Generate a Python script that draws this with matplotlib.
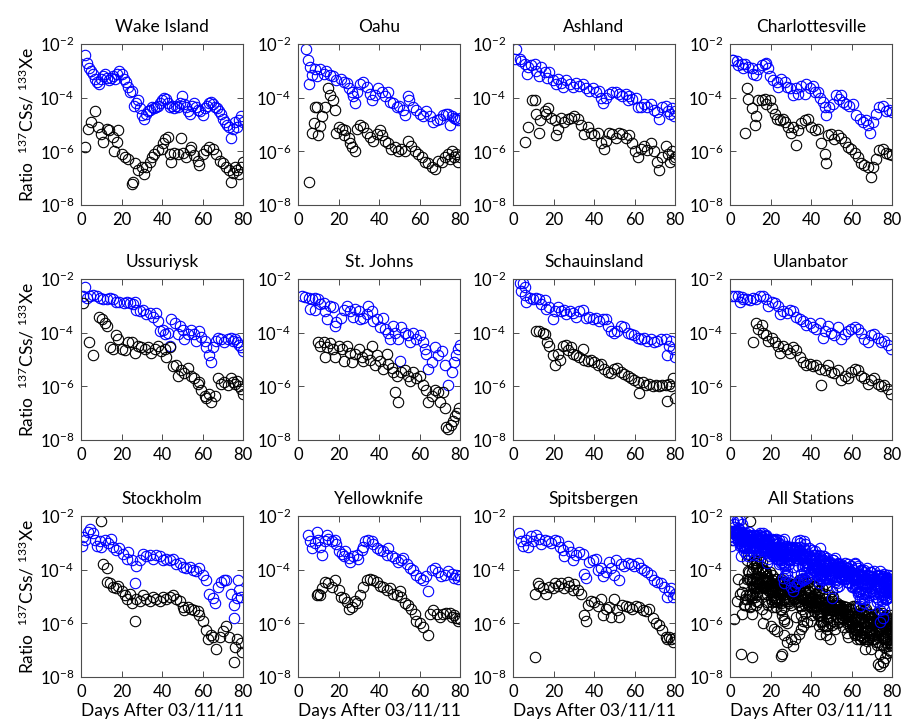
import numpy as np
import matplotlib.pyplot as plt

plt.rcParams['font.family'] = ['Lato', 'DejaVu Sans']
plt.rcParams['mathtext.fontset'] = 'custom'
plt.rcParams['mathtext.rm'] = 'Lato'
plt.rcParams['mathtext.it'] = 'Lato:italic'

# values as log10 of the ratio
# blue = upper series, black = lower series

wake_bd = [2, 3, 4, 5, 6, 7, 8, 9, 10, 11, 12, 13, 14, 15, 16, 17, 18, 19, 20, 21, 22, 23, 24, 25, 26, 27, 28, 29, 30,
           31, 32, 33, 34, 35, 36, 37, 38, 39, 40, 41, 42, 43, 44, 45, 46, 47, 48, 49, 50, 51, 52, 53, 54, 55, 56, 57,
           58, 59, 60, 61, 62, 63, 64, 65, 66, 67, 68, 69, 70, 71, 72, 73, 74, 75, 76, 77, 78, 79, 80]
wake_b = [-2.4, -2.7, -2.9, -3.0, -3.1, -3.3, -3.4, -3.5, -3.3, -3.2, -3.1, -3.25, -3.35, -3.25, -3.2, -3.3, -3.1, -3.0,
          -3.1, -3.3, -3.4, -3.6, -3.8, -3.75, -4.3, -4.2, -4.1, -4.4, -4.65, -4.8, -4.6, -4.5, -4.45, -4.35, -4.4,
          -4.35, -4.3, -4.2, -4.1, -4.0, -4.05, -4.2, -4.35, -4.3, -4.4, -4.3, -4.35, -4.2, -3.95, -4.25, -4.35, -4.5,
          -4.6, -4.3, -4.2, -4.35, -4.45, -4.5, -4.65, -4.4, -4.3, -4.2, -4.15, -4.25, -4.35, -4.4, -4.5, -4.6, -4.8,
          -4.9, -5.0, -5.1, -5.5, -5.15, -4.9, -5.1, -4.85, -4.7, -4.9]
wake_kd = [2, 3.6, 5, 7, 8.5, 10, 11, 12.6, 14, 16, 16.5, 17.8, 18.5, 20, 21.6, 23, 25, 25.8, 26.5, 28, 30, 31, 32, 34,
           35, 36, 38, 40, 40.5, 41.3, 43, 44, 44.6, 46, 48, 49.5, 50.5, 52, 53.6, 54.4, 56, 57.7, 58.5, 60, 61.8,
           63.4, 65, 66.7, 68.4, 70, 71.6, 73, 74, 75, 76, 77, 78, 79, 80]
wake_k = [-5.84, -5.15, -4.9, -4.5, -5.1, -5.35, -5.65, -5.15, -5.2, -5.45, -6.0, -5.65, -5.2, -6.1, -6.2, -6.3, -7.2,
          -7.15, -6.45, -6.7, -6.6, -6.85, -6.6, -6.4, -6.2, -6.1, -5.95, -5.9, -5.7, -5.55, -5.45, -6.1, -6.4, -6.05,
          -6.1, -5.5, -6.05, -6.2, -5.95, -5.85, -6.15, -6.35, -6.5, -6.1, -5.95, -5.85, -5.9, -6.1, -6.35, -6.45,
          -6.6, -6.7, -7.15, -6.8, -6.6, -6.7, -6.85, -6.6, -6.4]

oahu_bd = [4, 4.8, 5.2, 6, 7, 8.5, 9.3, 11, 12.6, 14, 16, 17.5, 19, 21, 22.5, 24, 25, 26.5, 27.4, 28, 29, 30.6, 32.3,
           34, 35.5, 36.4, 38, 39.7, 41.3, 43, 44.6, 45.4, 47, 48.7, 50, 52, 52.8, 54.4, 55, 57, 58.5, 60, 61.8, 63.4,
           65, 66.7, 68.4, 70, 71.6, 73, 74, 75, 76, 77, 78, 79, 80]
oahu_b = [-2.2, -2.6, -3.5, -2.85, -3.15, -2.95, -3.2, -2.95, -3.1, -3.0, -3.15, -3.2, -3.35, -3.3, -3.4, -3.45, -3.65,
          -3.8, -3.95, -4.2, -3.8, -3.5, -3.4, -3.6, -3.85, -4.1, -3.9, -3.65, -3.8, -3.95, -3.8, -4.15, -4.2, -4.35,
          -4.3, -4.45, -4.65, -3.95, -4.1, -4.35, -4.45, -4.6, -4.7, -4.5, -4.7, -4.9, -4.85, -4.8, -4.65, -4.6, -4.6,
          -5.0, -4.7, -4.75, -4.8, -4.85, -4.75]
oahu_kd = [5.2, 7, 7.7, 8.5, 9.3, 10, 11, 11.8, 13.4, 15, 16, 17.5, 18.4, 19, 20, 21.6, 22.5, 23.3, 25, 25.7, 26.5, 28,
           29, 30.6, 32.3, 34, 35.5, 37, 39, 40.5, 41.3, 43, 44.6, 46, 48, 49.5, 51, 52.8, 54.4, 56, 57.7, 59.3, 61,
           62.6, 64, 66, 67.5, 69, 71, 72.5, 74, 75, 76, 77, 78, 79, 80]
oahu_k = [-7.15, -5.3, -4.95, -4.35, -4.35, -5.4, -5.05, -4.7, -4.35, -3.65, -3.9, -4.1, -4.45, -5.3, -5.1, -5.15,
          -5.4, -5.2, -5.5, -5.7, -5.85, -6.0, -5.15, -5.0, -5.1, -5.3, -5.45, -5.6, -5.35, -5.2, -5.4, -5.6, -5.7,
          -5.9, -5.85, -6.0, -5.9, -6.0, -5.6, -5.8, -6.0, -6.1, -6.2, -6.4, -6.45, -6.6, -6.65, -6.35, -6.4, -6.2,
          -6.1, -6.3, -6.0, -6.2, -6.1, -6.4, -6.2]

ash_bd = [0.8, 1.6, 3.3, 4, 5.7, 7, 7.4, 9, 10.7, 11.5, 13, 14, 15.6, 17, 18, 19.7, 21.3, 22, 23.8, 24.6, 26, 28, 29.5,
          31, 32.8, 34.4, 36, 37.7, 39.3, 41, 42.6, 43.4, 44.3, 46, 47.5, 49, 50.8, 52.5, 54, 55.7, 56.6, 57.4, 59,
          60.6, 61.5, 63, 64.8, 66.4, 68, 69.7, 71.3, 72, 73.8, 75.4, 76.5, 77.5, 78.5, 79.3, 80]
ash_b = [-2.55, -2.2, -2.55, -2.65, -2.75, -3.1, -2.85, -2.8, -2.75, -3.0, -3.2, -2.85, -3.05, -3.25, -3.05, -3.35,
         -3.5, -3.3, -3.45, -3.6, -3.35, -3.5, -3.6, -3.45, -3.55, -3.5, -3.65, -3.75, -3.65, -3.8, -3.75, -4.0, -4.2,
         -4.0, -3.85, -3.8, -3.8, -3.85, -3.95, -3.85, -4.1, -3.95, -4.05, -4.0, -4.35, -4.35, -4.25, -4.35, -4.25,
         -4.45, -4.55, -4.8, -4.35, -4.3, -4.5, -4.6, -4.4, -4.7, -4.5]
ash_kd = [6, 7.4, 9.5, 10.7, 11.5, 13, 13.5, 15.6, 16.4, 17.2, 19, 20.5, 21.3, 22, 23.8, 25.4, 27, 28.7, 30.3, 32,
          33.6, 35.2, 36.9, 38.5, 40, 41.8, 43.4, 45, 46, 47.5, 49, 50.8, 52.5, 54, 55.7, 57.4, 59, 60, 61.5, 63, 64.8,
          66.4, 68, 69.7, 71.3, 72, 73.8, 75.4, 76.5, 77.5, 78.5, 79.3, 80]
ash_k = [-5.65, -5.1, -4.1, -4.1, -4.6, -5.3, -4.85, -4.5, -4.6, -4.4, -4.75, -4.85, -5.4, -5.15, -4.75, -4.9, -4.8,
         -4.75, -4.7, -4.8, -5.0, -5.35, -5.1, -5.3, -5.4, -5.3, -5.7, -5.9, -5.6, -5.3, -5.35, -5.5, -5.3, -5.35, -5.5,
         -5.4, -5.7, -6.0, -6.2, -5.9, -5.8, -5.95, -5.7, -6.0, -6.4, -6.7, -6.2, -5.8, -6.1, -6.4, -6.0, -6.3, -6.2]

cha_bd = [0.8, 1.6, 3.3, 4, 5.7, 6.5, 7.4, 9, 10.7, 11.5, 13, 14, 15.6, 17.2, 18, 19, 19.7, 21.3, 23, 23.8, 25.4, 27,
          28, 29.5, 31, 32.8, 33.6, 35.2, 37, 37.7, 39.3, 41, 41.8, 43.4, 44.3, 46, 46.7, 47.5, 49, 50.8, 52.5, 54, 55,
          55.7, 57.4, 59, 60.6, 62.3, 64, 65.6, 67, 68, 68.9, 70.5, 72, 73.8, 75.4, 77, 78.7, 80]
cha_b = [-2.6, -2.6, -2.65, -2.8, -2.75, -2.9, -2.75, -2.85, -2.9, -3.1, -3.15, -2.95, -2.8, -2.75, -2.7, -2.9, -3.2,
         -3.35, -3.4, -3.6, -3.3, -3.4, -3.6, -3.65, -3.9, -3.65, -3.85, -3.55, -3.85, -3.5, -3.65, -3.55, -3.8, -3.8,
         -4.0, -4.15, -4.35, -4.65, -4.35, -4.25, -3.9, -4.05, -3.9, -4.15, -4.25, -4.3, -4.25, -4.65, -4.8, -4.9,
         -4.85, -5.0, -5.3, -4.9, -4.6, -4.35, -4.3, -4.5, -4.45, -4.55]
cha_kd = [7.4, 8.2, 9, 10.7, 12.3, 13, 14, 15.6, 17.2, 18, 19.7, 20.5, 22, 23, 24.6, 26, 27, 28.7, 30.3, 31, 32.8,
          33.6, 35, 37, 38.5, 40.2, 41.8, 43.4, 45, 46.7, 47.5, 48.4, 50, 51.6, 53.3, 55, 56.6, 58.2, 59.8, 61.5, 63,
          64.8, 66.4, 68, 69.7, 70.5, 72, 73.8, 75.4, 77, 78.7, 80]
cha_k = [-5.3, -3.65, -4.05, -4.4, -5.0, -4.7, -4.1, -4.1, -4.05, -4.25, -4.1, -4.4, -4.6, -4.8, -4.85, -4.8, -4.9,
         -5.1, -5.3, -5.1, -5.75, -5.2, -4.95, -4.85, -4.8, -5.1, -5.2, -5.15, -5.7, -6.1, -6.45, -5.4, -5.35, -5.55,
         -5.4, -5.5, -5.65, -5.85, -5.9, -6.05, -6.2, -6.45, -6.5, -6.6, -6.95, -6.6, -6.3, -5.95, -5.9, -6.05, -6.1,
         -6.15]

uss_bd = [1.1, 2, 2.8, 4.4, 6, 7.7, 9.3, 11, 12.6, 14.3, 16, 17.5, 19, 21, 22.5, 24, 25.7, 26.5, 27.4, 29, 30.6, 32.3,
          34, 35.6, 37.2, 38, 38.9, 40.5, 41.3, 43, 43.8, 44.6, 46.2, 47.8, 48.7, 50.3, 51.1, 52.8, 54.4, 56, 57, 58.5,
          59.3, 61, 61.8, 63.4, 64.3, 65, 66.7, 67.5, 69, 70.8, 72.5, 74, 75, 76, 77, 78, 79, 80]
uss_b = [-2.65, -2.3, -2.7, -2.65, -2.6, -2.65, -2.7, -2.75, -2.75, -2.7, -2.75, -2.85, -2.85, -2.9, -2.85, -2.9,
         -2.95, -2.85, -3.15, -3.2, -3.15, -3.3, -3.25, -3.4, -3.25, -3.55, -3.95, -3.9, -4.05, -4.0, -4.5, -3.5, -3.65,
         -4.05, -3.75, -3.9, -4.25, -4.05, -3.9, -4.05, -4.3, -3.95, -4.15, -4.3, -4.55, -4.85, -5.1, -4.55, -4.3, -4.2,
         -4.25, -4.35, -4.25, -4.2, -4.3, -4.25, -4.35, -4.45, -4.55, -4.7]
uss_kd = [1.1, 4, 5.7, 9, 10.2, 11.8, 12.6, 14.3, 16, 17.5, 18.4, 20, 21.6, 23.3, 25, 26.5, 28, 29.8, 31.5, 33, 34.8,
          36.4, 38, 39.7, 41.3, 42, 43.8, 45.4, 47, 47.9, 49.5, 51, 52.8, 54.4, 56, 57.7, 58.5, 59.3, 61, 61.8, 63.4,
          64.3, 66, 67.5, 69, 70.8, 72.5, 74, 75, 76, 77, 78, 79, 80]
uss_k = [-2.9, -4.35, -4.85, -3.4, -3.5, -3.65, -3.75, -4.55, -4.6, -4.1, -4.25, -4.6, -4.65, -4.35, -4.35, -4.75,
         -4.5, -4.55, -4.6, -4.55, -4.75, -4.6, -4.5, -4.7, -4.6, -4.9, -4.55, -5.25, -5.2, -5.6, -5.4, -5.5, -5.3,
         -5.6, -5.7, -5.9, -5.85, -6.15, -6.35, -6.45, -6.3, -6.6, -6.35, -5.7, -5.9, -5.85, -5.95, -5.7, -5.85, -5.9,
         -5.8, -6.0, -6.1, -6.3]

stj_bd = [2, 3.6, 5.2, 6, 7, 8.5, 8.6, 10, 11, 12.6, 13.4, 14.3, 16, 17.5, 18.4, 19, 21, 22.5, 24, 25.7, 27.4, 28, 30,
          30.6, 32.3, 34, 34.8, 36.4, 37.2, 38.9, 40.5, 42, 43, 44.6, 45.4, 47, 48, 49.5, 50.3, 51, 52.8, 54.4, 55.2,
          57, 58.5, 60, 61.8, 62.6, 63.4, 64.3, 66, 67.5, 69, 71, 72.5, 74, 76, 77, 78, 79, 80]
stj_b = [-2.65, -2.67, -2.7, -3.1, -2.75, -2.7, -3.15, -2.75, -2.95, -2.9, -3.2, -3.5, -3.0, -3.05, -3.75, -3.6, -3.45,
         -3.15, -3.0, -3.2, -3.4, -3.1, -3.2, -3.5, -3.45, -3.3, -3.0, -3.2, -3.55, -3.5, -3.8, -3.45, -3.85, -4.0,
         -4.25, -3.75, -4.0, -4.25, -5.05, -3.8, -4.0, -4.1, -4.35, -4.0, -4.25, -4.1, -4.35, -4.6, -4.8, -5.35, -5.1,
         -4.55, -4.85, -4.7, -5.2, -5.95, -5.45, -5.1, -4.85, -4.6, -4.45]
stj_kd = [10, 11, 12.6, 13.4, 14.3, 16, 17.5, 18.4, 20, 21.6, 22.5, 24, 25.7, 26.5, 28, 30, 31.5, 32.3, 34, 35.6,
          36.4, 38, 38.9, 40.5, 42, 43.8, 44.6, 46.2, 47, 48, 48.7, 49.5, 51, 52.8, 54.4, 55.2, 57, 58.5, 60, 61.8,
          63.4, 64.3, 66, 67.5, 69, 70, 71.6, 72.5, 73.3, 74, 75.5, 76.5, 77.5, 78.5, 79.5]
stj_k = [-4.35, -4.5, -4.35, -4.9, -4.55, -4.4, -4.6, -4.9, -4.5, -4.6, -5.05, -4.5, -4.75, -5.1, -4.8, -4.6, -4.9,
         -5.05, -4.8, -5.0, -4.5, -5.2, -4.85, -5.05, -5.35, -4.8, -5.15, -5.3, -5.45, -6.2, -5.6, -6.6, -5.45, -5.4,
         -5.6, -5.8, -5.45, -5.7, -5.6, -5.95, -6.15, -6.6, -6.35, -6.15, -6.2, -6.6, -6.2, -6.8, -7.5, -7.6, -7.45,
         -7.3, -7.1, -7.0, -6.8]

sch_bd = [3.3, 4, 5, 5.7, 5.8, 6.5, 8.2, 9.8, 11.5, 13, 14, 15.6, 16.4, 18, 19.7, 20.5, 22, 23.8, 25.4, 26.2, 28, 29.5,
          31, 32.8, 34.4, 36, 37.7, 39.3, 41, 42.6, 44.3, 46, 46.7, 48.4, 50, 51.6, 53.3, 55, 56.6, 58.2, 59.8, 61.5,
          63, 64.8, 66.4, 68, 69.7, 71.3, 73, 75.4, 76, 77, 78, 79, 80]
sch_b = [-2.15, -2.45, -2.15, -2.3, -2.6, -2.85, -2.7, -2.75, -2.7, -2.75, -2.95, -2.8, -3.1, -3.05, -3.5, -3.2, -3.05,
         -3.2, -3.15, -3.3, -3.2, -3.25, -3.4, -3.2, -3.15, -3.45, -3.4, -3.5, -3.45, -3.55, -3.5, -3.5, -3.75, -3.95,
         -4.0, -3.95, -3.75, -3.8, -4.0, -4.05, -4.1, -4.2, -4.25, -4.2, -4.3, -4.25, -4.35, -4.3, -4.25, -4.25, -4.85,
         -4.5, -4.3, -4.6, -4.9]
sch_kd = [11.5, 13, 14.8, 15.6, 17, 18, 19.7, 20.5, 22, 23, 24.6, 26.2, 27, 28.7, 29.5, 31, 32.8, 34.4, 35.2, 37, 38.5,
          40.2, 41.8, 43.4, 45, 46.7, 48.4, 50, 51.6, 53.3, 55, 56.6, 58.2, 59.8, 61.5, 62.3, 64, 65.6, 67.2, 69, 70.5,
          72, 73.8, 75.4, 76, 77, 78, 79, 80]
sch_k = [-3.95, -3.95, -4.0, -4.05, -4.35, -4.5, -4.85, -5.2, -4.8, -5.0, -4.5, -4.45, -4.65, -4.55, -4.8, -4.85, -4.9,
         -4.6, -5.0, -5.05, -5.0, -5.1, -5.2, -5.15, -5.35, -5.45, -5.5, -5.35, -5.3, -5.45, -5.55, -5.6, -5.7, -5.75,
         -5.85, -6.25, -5.85, -5.95, -5.9, -6.0, -5.95, -6.0, -5.95, -5.95, -6.55, -5.9, -6.0, -5.7, -6.45]

ula_bd = [0.8, 2.5, 4, 5, 5.7, 6.5, 8.2, 9.8, 11.5, 13, 14.8, 16.4, 18, 19, 20.5, 22, 23.8, 24.6, 26, 28, 29.5, 31,
          32.8, 34.4, 36, 37.7, 39.3, 41, 42.6, 44.3, 46, 46.7, 48.4, 50, 51.6, 53.3, 55, 56.6, 58.2, 59.8, 61.5, 63,
          64.8, 66.4, 68, 69.7, 71.3, 73, 74.6, 76.2, 78, 79.5]
ula_b = [-2.65, -2.62, -2.65, -2.85, -2.67, -2.75, -2.73, -2.78, -2.7, -2.75, -2.65, -2.62, -2.73, -3.0, -2.85, -2.9,
         -3.0, -3.3, -3.2, -3.25, -3.15, -3.2, -3.4, -3.5, -3.55, -3.7, -3.65, -3.8, -3.85, -3.65, -4.2, -3.95, -3.75,
         -4.0, -4.1, -3.8, -4.25, -4.05, -3.95, -3.85, -3.8, -3.85, -4.0, -4.25, -4.35, -4.1, -4.05, -4.2, -4.35, -4.3,
         -4.45, -4.6]
ula_kd = [11.5, 13, 14, 15.6, 16.4, 18, 19, 20.5, 22, 23.8, 24.6, 26, 28, 29.5, 31, 32.8, 34.4, 36, 37.7, 39.3, 41,
          42.6, 44.3, 45, 46.7, 48.4, 50, 51.6, 53.3, 55, 56.6, 58.2, 59.8, 61.5, 63, 64.8, 66.4, 68, 69.7, 71.3, 73,
          74.6, 76.2, 78, 79.5]
ula_k = [-4.35, -3.65, -3.85, -3.7, -4.0, -4.1, -4.3, -4.2, -4.35, -4.5, -4.75, -4.5, -4.6, -4.75, -4.55, -4.65, -4.9,
         -5.1, -5.2, -5.15, -5.25, -5.2, -5.35, -5.95, -5.4, -5.2, -5.45, -5.5, -5.4, -5.75, -5.6, -5.7, -5.45, -5.35,
         -5.4, -5.6, -5.7, -5.9, -5.75, -5.7, -5.9, -6.0, -5.95, -6.1, -6.3]

sto_bd = [0.3, 1.1, 2, 3.6, 4.4, 6, 7, 7.7, 9.3, 10, 11.8, 13.4, 15, 16, 17.5, 19, 20.8, 22.5, 23.3, 25, 26.5, 27.4, 29,
          30.6, 32.3, 34, 35.6, 37.2, 38.9, 40.5, 42, 43.8, 45.4, 47, 48.7, 50.3, 52, 53.6, 55.2, 57, 58.5, 60.2, 61.8,
          63.4, 65, 66, 67.5, 69.2, 70.8, 71.5, 74, 75.5, 75.6, 77, 77.5, 78, 79]
sto_b = [-3.1, -2.8, -2.9, -2.6, -2.5, -2.65, -2.9, -3.1, -2.95, -3.15, -2.9, -3.0, -2.85, -3.15, -3.25, -3.2, -3.4,
         -3.6, -3.35, -3.65, -4.5, -3.85, -3.65, -3.4, -3.5, -3.45, -3.6, -3.45, -3.5, -3.65, -3.6, -3.65, -3.6, -3.8,
         -3.75, -3.9, -3.95, -3.9, -4.0, -4.05, -3.95, -4.2, -4.4, -4.9, -5.05, -5.25, -4.65, -4.45, -4.4, -4.4, -4.9,
         -5.3, -5.8, -5.05, -4.4, -4.75, -5.0]
sto_kd = [10, 11, 12.6, 13, 14.3, 16, 17.5, 18.4, 20, 21.6, 22.5, 24, 25, 26.5, 27.4, 29, 30.6, 32.3, 34, 35.6, 37.2,
          38.9, 40.5, 42, 43.8, 45.4, 47, 48.7, 50.3, 51.1, 52.8, 54.4, 56, 57.7, 58.5, 60.2, 61.8, 62.6, 64.3, 65, 66.7,
          68.4, 70, 71.6, 73.3, 75.5, 76, 77, 79, 79.5]
sto_k = [-2.2, -3.8, -3.95, -4.45, -4.5, -4.65, -4.7, -4.6, -4.8, -4.95, -5.1, -4.9, -5.25, -5.9, -5.1, -5.15, -4.95,
         -5.1, -5.15, -5.0, -5.1, -5.15, -5.0, -5.1, -5.0, -4.95, -5.1, -5.15, -5.4, -5.5, -5.4, -5.45, -5.5, -5.55,
         -5.7, -5.9, -6.25, -6.6, -6.45, -6.5, -6.95, -6.5, -6.3, -6.1, -6.5, -7.45, -6.9, -6.6, -6.75, -7.05]

yel_bd = [4.8, 6, 7, 8.5, 9.3, 10, 11, 11.8, 13.4, 14.3, 15, 16.7, 18.4, 19, 20, 21.6, 22.5, 23.3, 25, 25.7, 27.4, 29,
          29.8, 31.5, 32.3, 33, 34.8, 36.4, 37.2, 38.9, 40.5, 42, 43.8, 44.6, 46.2, 47.9, 49.5, 51, 52, 53.6, 55.2, 57,
          58.5, 60.2, 61.8, 63.4, 64.3, 66, 67.5, 69.2, 70.8, 72.5, 74, 76, 77, 78, 79, 80]
yel_b = [-2.7, -2.95, -3.2, -3.0, -2.6, -2.9, -3.15, -3.45, -2.95, -2.7, -2.85, -2.95, -2.9, -3.05, -3.3, -3.4, -3.5,
         -3.3, -3.55, -3.7, -3.5, -3.45, -3.6, -3.25, -3.15, -2.95, -2.9, -2.95, -3.05, -3.2, -3.25, -3.3, -3.45, -3.2,
         -3.5, -3.55, -3.7, -3.65, -3.55, -3.8, -3.95, -4.0, -4.2, -4.3, -4.4, -4.25, -4.8, -4.0, -3.95, -4.1, -4.25,
         -4.2, -4.05, -4.15, -4.3, -4.2, -4.35, -4.25]
yel_kd = [9.3, 10, 11, 11.8, 13.4, 15, 16.7, 18.4, 20, 21, 22.5, 24, 25, 26.5, 28, 29, 30.6, 32.3, 34, 35.6, 37.2, 38.9,
          40.5, 42, 43.8, 45.4, 47, 48.7, 50.3, 51, 52.8, 54.4, 56, 57.7, 58.5, 60.2, 61.8, 64.3, 65, 66.7, 68.4, 70,
          71.6, 73.3, 75, 76, 77, 78, 79, 80]
yel_k = [-4.95, -4.9, -4.95, -4.7, -4.45, -4.5, -4.65, -4.4, -4.75, -5.0, -5.05, -5.2, -5.45, -5.4, -5.15, -5.25, -4.95,
         -4.65, -4.4, -4.35, -4.4, -4.45, -4.6, -4.65, -4.75, -4.7, -4.9, -4.95, -4.8, -5.0, -5.25, -5.3, -5.45, -5.65,
         -5.9, -6.0, -6.15, -6.45, -5.65, -5.5, -5.65, -5.75, -5.65, -5.6, -5.6, -5.75, -5.7, -5.8, -5.9, -5.85]

spi_bd = [3, 4, 5, 6.5, 7.4, 9, 9.8, 11.5, 13, 14, 15.6, 17.2, 19, 20.5, 22, 23, 24.6, 25.4, 27, 28.7, 29.5, 31, 32.8,
          34.4, 35.2, 36, 37.7, 39.3, 41, 41.8, 43.4, 44.3, 46, 47.5, 48.4, 50, 50.8, 52.5, 53.3, 55, 56.6, 58.2, 59.8,
          61.5, 63, 64.8, 66.4, 68, 69.7, 71.3, 73, 74.6, 76.2, 77, 78, 79, 80]
spi_b = [-2.65, -2.95, -3.1, -2.9, -3.15, -2.75, -2.95, -2.7, -2.85, -3.05, -2.9, -2.95, -3.0, -2.9, -2.95, -3.15,
         -3.25, -3.5, -3.1, -3.35, -3.65, -3.45, -3.35, -3.4, -4.15, -4.3, -3.7, -3.65, -3.6, -4.0, -3.95, -4.25, -4.1,
         -3.7, -3.95, -4.2, -3.65, -4.4, -3.8, -3.85, -3.75, -3.8, -3.85, -3.75, -3.95, -4.0, -4.1, -4.2, -4.4, -4.45,
         -4.5, -4.65, -5.0, -4.8, -4.7, -5.0, -4.9]
spi_kd = [10.7, 11, 12.3, 13, 14.8, 16.4, 18, 19.7, 20.5, 22, 23.8, 25.4, 27, 27.9, 29.5, 30.3, 32, 33.6, 35.2, 36, 37,
          38.5, 40.2, 41.8, 43.4, 44.3, 46, 47.5, 48.4, 50, 51.6, 52.5, 54, 55.7, 57.4, 59, 60.6, 62.3, 64, 65.6, 67.2,
          68.9, 70.5, 72, 73.8, 75.4, 76, 77, 78, 79, 80]
spi_k = [-7.25, -4.9, -4.5, -4.6, -4.7, -4.9, -4.65, -4.7, -4.5, -4.6, -4.5, -4.7, -4.45, -4.6, -4.75, -4.55, -4.75,
         -4.9, -5.7, -5.9, -5.3, -5.15, -5.2, -5.35, -5.1, -5.7, -5.45, -5.4, -5.75, -5.1, -5.5, -5.75, -5.3, -5.35,
         -5.4, -5.45, -5.35, -5.4, -5.5, -5.55, -5.45, -5.8, -6.0, -6.05, -6.25, -6.5, -6.6, -6.5, -6.6, -6.7, -6.55]

stations = [
    ('Wake Island', wake_bd, wake_b, wake_kd, wake_k),
    ('Oahu', oahu_bd, oahu_b, oahu_kd, oahu_k),
    ('Ashland', ash_bd, ash_b, ash_kd, ash_k),
    ('Charlottesville', cha_bd, cha_b, cha_kd, cha_k),
    ('Ussuriysk', uss_bd, uss_b, uss_kd, uss_k),
    ('St. Johns', stj_bd, stj_b, stj_kd, stj_k),
    ('Schauinsland', sch_bd, sch_b, sch_kd, sch_k),
    ('Ulanbator', ula_bd, ula_b, ula_kd, ula_k),
    ('Stockholm', sto_bd, sto_b, sto_kd, sto_k),
    ('Yellowknife', yel_bd, yel_b, yel_kd, yel_k),
    ('Spitsbergen', spi_bd, spi_b, spi_kd, spi_k),
]

W, H = 902, 724
col_left = [81, 298, 513, 730]
row_top = [44, 279, 516]
ax_w, ax_h = 162, 161

mk = dict(linestyle='none', marker='o', markersize=7.5, markerfacecolor='none', markeredgewidth=0.8)


def draw_blue(ax, d, v):
    ax.plot(d, 10.0 ** np.array(v), markeredgecolor='#0000ff', **mk)


def draw_black(ax, d, v):
    ax.plot(d, 10.0 ** np.array(v), markeredgecolor='black', **mk)


fig = plt.figure(figsize=(W / 100, H / 100), dpi=100)
for i in range(12):
    r, c = divmod(i, 4)
    ax = fig.add_axes([col_left[c] / W, 1 - (row_top[r] + ax_h) / H, ax_w / W, ax_h / H])
    if i < 11:
        name, bd, b, kd, k = stations[i]
        draw_blue(ax, bd, b)
        draw_black(ax, kd, k)
    else:
        name = 'All Stations'
        # black underneath, blue on top
        for _, bd, b, kd, k in stations:
            draw_black(ax, kd, k)
        for _, bd, b, kd, k in stations:
            draw_blue(ax, bd, b)
    ax.set_yscale('log')
    ax.set_xlim(0, 80)
    ax.set_ylim(1e-8, 1e-2)
    ax.set_xticks([0, 20, 40, 60, 80])
    ax.set_yticks([1e-8, 1e-6, 1e-4, 1e-2])
    ax.minorticks_off()
    ax.tick_params(direction='in', top=True, right=True, length=4, width=0.7,
                   color='0.3', labelsize=12, pad=5)
    for s in ax.spines.values():
        s.set_color('0.3')
        s.set_linewidth(0.8)
    ax.set_title(name, fontsize=12.5, pad=9)
    if c == 0:
        ax.set_ylabel(r'Ratio  $^{137}$CSs/ $^{133}$Xe', fontsize=12.5, labelpad=2)
    if r == 2:
        ax.set_xlabel('Days After 03/11/11', fontsize=12.5, labelpad=2)

fig.savefig('out.png', dpi=100)
